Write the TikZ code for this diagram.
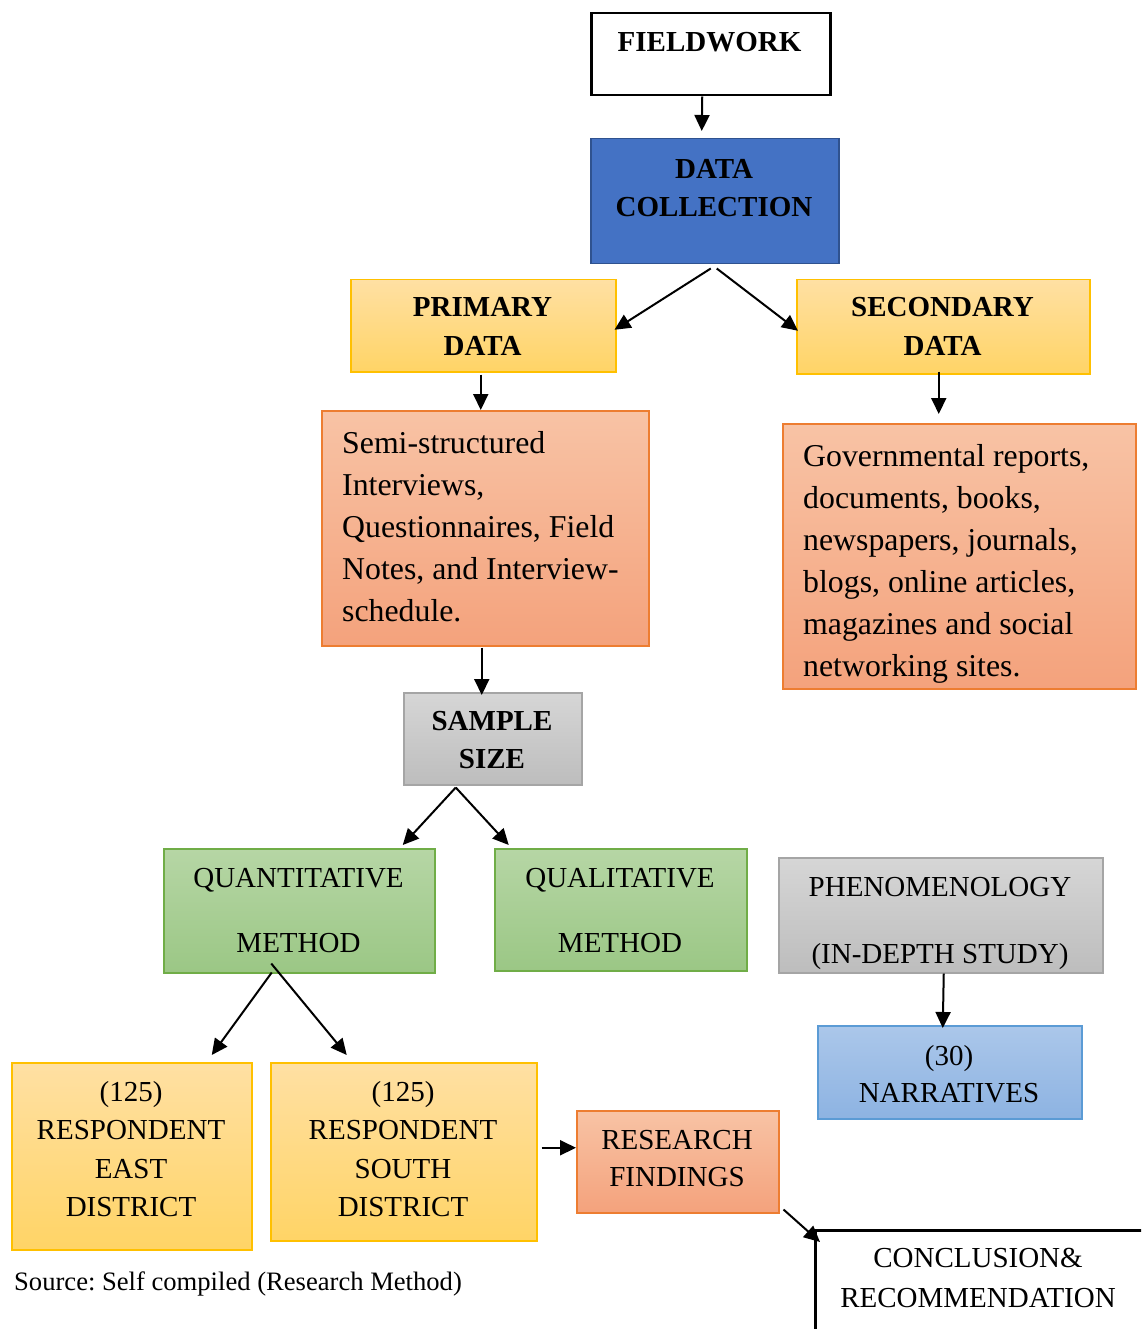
\documentclass[tikz,border=0pt]{standalone}
\usepackage{fontspec}
\setmainfont{Liberation Serif}
\usetikzlibrary{arrows.meta}
\frenchspacing

\definecolor{dcfill}{HTML}{4472C4}
\definecolor{dcline}{HTML}{2F528F}
\definecolor{ytop}{HTML}{FFE0A3}
\definecolor{ybot}{HTML}{FFD466}
\definecolor{yline}{HTML}{FFC000}
\definecolor{otop}{HTML}{F8C3A5}
\definecolor{obot}{HTML}{F4A27C}
\definecolor{oline}{HTML}{ED7D31}
\definecolor{gtop}{HTML}{B6D6A5}
\definecolor{gbot}{HTML}{9BC785}
\definecolor{gline}{HTML}{70AD47}
\definecolor{stop}{HTML}{D6D6D6}
\definecolor{sbot}{HTML}{BDBDBD}
\definecolor{sline}{HTML}{A5A5A5}
\definecolor{btop}{HTML}{ABC7EA}
\definecolor{bbot}{HTML}{8DB3E2}
\definecolor{bline}{HTML}{5B9BD5}

\newcommand\capsfont{\fontsize{29}{38}\selectfont}
\newcommand\bodyfont{\fontsize{31.8}{42}\selectfont}
\newcommand\notefont{\fontsize{26.6}{32}\selectfont}

\tikzset{
  bx/.style={rectangle, draw, inner sep=0pt, anchor=north west, line width=1.5pt},
  whitebox/.style={bx, draw=black, line width=2.5pt, fill=white},
  bluebox/.style={bx, draw=dcline, fill=dcfill},
  goldbox/.style={bx, draw=yline, top color=ytop, bottom color=ybot},
  orangebox/.style={bx, draw=oline, top color=otop, bottom color=obot},
  greenbox/.style={bx, draw=gline, top color=gtop, bottom color=gbot},
  greybox/.style={bx, draw=sline, top color=stop, bottom color=sbot},
  skybox/.style={bx, draw=bline, top color=btop, bottom color=bbot},
  lbl/.style={anchor=north, align=center, inner sep=0pt, font=\capsfont},
  lblb/.style={lbl, font=\capsfont\bfseries},
  body/.style={anchor=north west, align=left, inner sep=0pt, font=\bodyfont},
  arr/.style={line width=2pt, -{Triangle[length=16pt,width=15pt]}},
}

\begin{document}
\begin{tikzpicture}[x=1pt,y=-1pt]
\useasboundingbox (0,0) rectangle (1141,1329);
\clip (0,0) rectangle (1141,1329);

% boxes
\node[whitebox, minimum width=239, minimum height=82] (fw) at (590,12) {};
\node[bluebox, minimum width=248, minimum height=125] (dc) at (590,138) {};
\node[goldbox, minimum width=265, minimum height=92] (pd) at (350,279) {};
\node[goldbox, minimum width=293, minimum height=94] (sd) at (796,279) {};
\node[orangebox, minimum width=327, minimum height=235] (pm) at (321,410) {};
\node[orangebox, minimum width=353, minimum height=265] (sm) at (782,423) {};
\node[greybox, minimum width=178, minimum height=92] (ss) at (403,692) {};
\node[greenbox, minimum width=271, minimum height=124] (qn) at (163,848) {};
\node[greenbox, minimum width=252, minimum height=122] (ql) at (494,848) {};
\node[greybox, minimum width=324, minimum height=115] (ph) at (778,857) {};
\node[skybox, minimum width=264, minimum height=93] (nr) at (817,1025) {};
\node[goldbox, minimum width=240, minimum height=187] (ea) at (11,1062) {};
\node[goldbox, minimum width=266, minimum height=178] (so) at (270,1062) {};
\node[orangebox, minimum width=202, minimum height=102] (rf) at (576,1110) {};
\node[whitebox, minimum width=400, minimum height=200] (cr) at (814,1229) {};

% texts
\node[lblb] (fwt) at (709.5,32) {FIELDWORK};
\node[lblb] (dct) at (714,159) {DATA\\COLLECTION};
\node[lblb, font=\fontsize{29}{39}\selectfont\bfseries] (pdt) at (482.5,297) {PRIMARY\\DATA};
\node[lblb, font=\fontsize{29}{39}\selectfont\bfseries] (sdt) at (942.5,297) {SECONDARY\\DATA};
\node[body] (pmt) at (342,431) {Semi-structured\\Interviews,\\Questionnaires, Field\\Notes, and Interview-\\schedule.};
\node[body] (smt) at (803,444) {Governmental reports,\\documents, books,\\newspapers, journals,\\blogs, online articles,\\magazines and social\\networking sites.};
\node[lblb] (sst) at (492,711) {SAMPLE\\SIZE};
\node[lbl] (qnt) at (298.5,868) {QUANTITATIVE\\[27pt]METHOD};
\node[lbl] (qlt) at (620,868) {QUALITATIVE\\[27pt]METHOD};
\node[lbl] (pht) at (940,877) {PHENOMENOLOGY\\[29pt](IN-DEPTH STUDY)};
\node[lbl, font=\fontsize{29}{37}\selectfont] (nrt) at (949,1045) {(30)\\NARRATIVES};
\node[lbl, font=\fontsize{29}{38.5}\selectfont] (eat) at (131,1081) {(125)\\RESPONDENT\\EAST\\DISTRICT};
\node[lbl, font=\fontsize{29}{38.5}\selectfont] (sot) at (403,1081) {(125)\\RESPONDENT\\SOUTH\\DISTRICT};
\node[lbl, font=\fontsize{29}{37}\selectfont] (rft) at (677,1130) {RESEARCH\\FINDINGS};
\node[lbl, font=\fontsize{29}{40}\selectfont] (crt) at (978,1248) {CONCLUSION\&\\RECOMMENDATION};
\node[anchor=base west, inner sep=0pt, font=\notefont] (src) at (14,1290) {Source: Self compiled (Research Method)};

% connectors
\draw[arr] ([shift={(-8.5,0)}]fw.south) -- ([shift={(-13,-7)}]dc.north);
\draw[arr] ([shift={(-4,4)}]dc.south) -- ([shift={(-2,4)}]pd.east);
\draw[arr] ([shift={(2,4)}]dc.south) -- ([shift={(2,4)}]sd.west);
\draw[arr] ([shift={(-2.5,2)}]pd.south) -- ([shift={(-4.5,0)}]pm.north);
\draw[arr] ([shift={(-4.5,-3)}]sd.south) -- ([shift={(-20.5,-9)}]sm.north);
\draw[arr] ([shift={(-3.5,1)}]pm.south) -- ([shift={(-11,3)}]ss.north);
\draw[arr] ([shift={(-37,2)}]ss.south) -- ([shift={(103.5,-3)}]qn.north);
\draw[arr] ([shift={(-37,2)}]ss.south) -- ([shift={(-112,-3)}]ql.north);
\draw[arr] ([shift={(-27.5,-1)}]qn.south) -- ([shift={(80,-7)}]ea.north);
\draw[arr] ([shift={(-28,-10)}]qn.south) -- ([shift={(-57,-7)}]so.north);
\draw[arr] ([shift={(3,0)}]ph.south) -- ([shift={(-7,3)}]nr.north);
\draw[arr] ([shift={(4,-4)}]so.east) -- ([shift={(0,-14)}]rf.west);
\draw[arr] ([shift={(4,-4)}]rf.south east) -- ([shift={(6,13)}]cr.north west);
\end{tikzpicture}
\end{document}
